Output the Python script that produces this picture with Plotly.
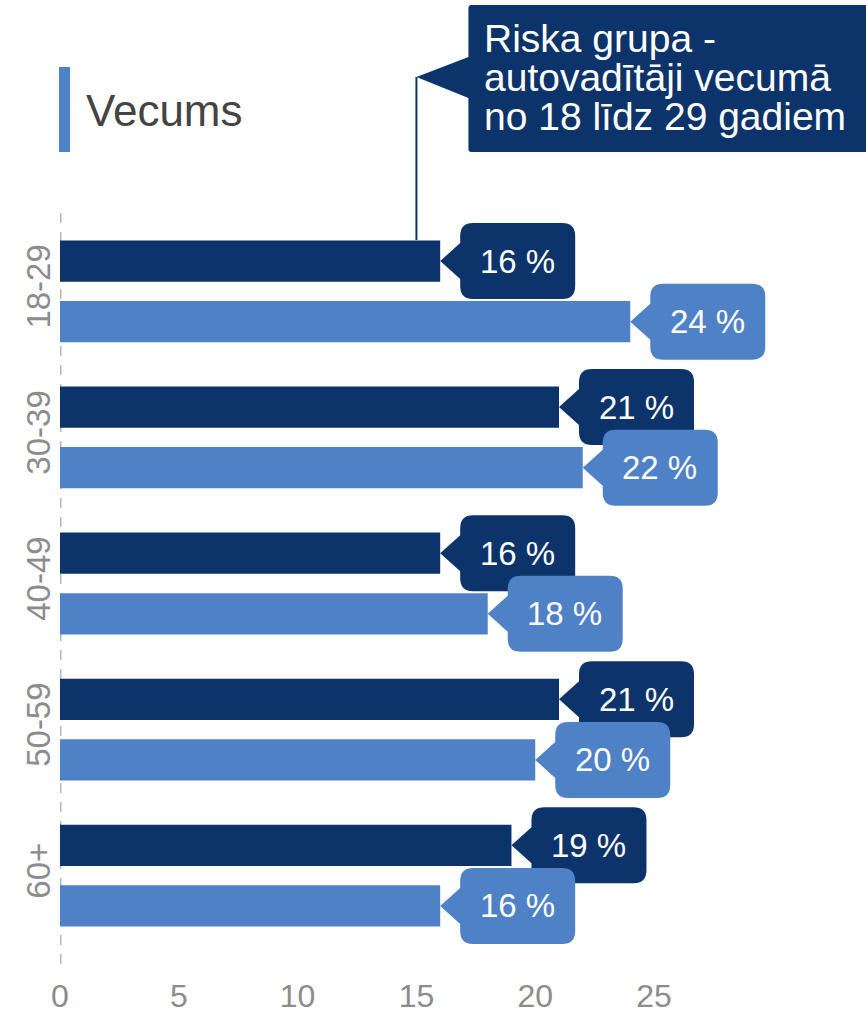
import plotly.graph_objects as go

# data
AGE_GROUPS = ["18-29", "30-39", "40-49", "50-59", "60+"]
SERIES_NAMES = ["Riska grupa", "Visi autovadītāji"]
DARK_VALUES = [16, 21, 16, 21, 19]
LIGHT_VALUES = [24, 22, 18, 20, 16]
X_TICKS = [0, 5, 10, 15, 20, 25]
TITLE = "Vecums"
NOTE_LINES = ["Riska grupa -", "autovadītāji vecumā", "no 18 līdz 29 gadiem"]
NOTE_X = 15

DARK = "#0d336b"
LIGHT = "#4f81c7"
GRAY = "#8c8c8c"
FONT = "Liberation Sans, Arial, sans-serif"

BARGAP = 0.17
BARGROUPGAP = 0.32


def callout_path(w=115, h=76, gap=20, half=18, r=13):
    """Rounded box with a left pointing arrow, tip at (0, 0), pixel units, y up."""
    x0, x1 = gap, gap + w
    t, b = h / 2, -h / 2
    return (
        f"M 0 0 L {x0} {half} L {x0} {t - r} Q {x0} {t} {x0 + r} {t} "
        f"L {x1 - r} {t} Q {x1} {t} {x1} {t - r} L {x1} {b + r} "
        f"Q {x1} {b} {x1 - r} {b} L {x0 + r} {b} Q {x0} {b} {x0} {b + r} "
        f"L {x0} {-half} Z"
    )


fig = go.Figure()
fig.add_trace(go.Bar(y=AGE_GROUPS, x=DARK_VALUES, orientation="h", name=SERIES_NAMES[0],
                     marker=dict(color=DARK, line=dict(width=0)), hoverinfo="skip"))
fig.add_trace(go.Bar(y=AGE_GROUPS, x=LIGHT_VALUES, orientation="h", name=SERIES_NAMES[1],
                     marker=dict(color=LIGHT, line=dict(width=0)), hoverinfo="skip"))

shapes = []
annotations = []

# dashed zero line (runs a little past the bottom of the plot area)
shapes.append(dict(type="line", xref="x", yref="paper", ysizemode="pixel", yanchor=0,
                   x0=0, x1=0, y0=-8, y1=743,
                   line=dict(color="#b8b8b8", width=3, dash="10px,9px"), layer="below"))

# value callouts
slot = (1 - BARGAP) / 4
for i, cat in enumerate(AGE_GROUPS):
    for val, sign, color in [(DARK_VALUES[i], -1, DARK), (LIGHT_VALUES[i], 1, LIGHT)]:
        yc = i + sign * slot
        shapes.append(dict(type="path", xref="x", yref="y", xsizemode="pixel", ysizemode="pixel",
                           xanchor=val, yanchor=yc, path=callout_path(),
                           fillcolor=color, line=dict(width=0)))
        annotations.append(dict(x=val, y=yc, xref="x", yref="y", xshift=77, showarrow=False,
                                text=f"{val} %", font=dict(family=FONT, size=33, color="white")))

# risk group note box with pointer line
shapes.append(dict(type="path", xref="x", yref="paper", xsizemode="pixel", ysizemode="pixel",
                   xanchor=NOTE_X, yanchor=1,
                   path="M 0 134 L 52 154 L 52 203 Q 52 206 55 206 L 460 206 L 460 59 "
                        "L 55 59 Q 52 59 52 62 L 52 113 Z",
                   fillcolor=DARK, line=dict(width=0)))
shapes.append(dict(type="line", xref="x", yref="paper", ysizemode="pixel", yanchor=1,
                   x0=NOTE_X, x1=NOTE_X, y0=134, y1=-29, line=dict(color=DARK, width=2)))
for line, dy in zip(NOTE_LINES, [173, 134, 95]):
    annotations.append(dict(x=NOTE_X, y=1, xref="x", yref="paper", xanchor="left", yanchor="middle",
                            xshift=66, yshift=dy, showarrow=False, text=line,
                            font=dict(family=FONT, size=39, color="white")))

# title with accent bar
shapes.append(dict(type="rect", xref="paper", yref="paper", xsizemode="pixel", ysizemode="pixel",
                   xanchor=0, yanchor=1, x0=-1, x1=10, y0=59, y1=144,
                   fillcolor=LIGHT, line=dict(width=0)))
annotations.append(dict(x=0, y=1, xref="paper", yref="paper", xanchor="left", yanchor="middle",
                        xshift=24, yshift=101, showarrow=False, text=TITLE,
                        font=dict(family=FONT, size=44, color="#444444")))

fig.update_layout(
    width=866, height=1013,
    margin=dict(l=60, r=0, t=211, b=57),
    paper_bgcolor="white", plot_bgcolor="white",
    barmode="group", bargap=BARGAP, bargroupgap=BARGROUPGAP,
    showlegend=False,
    shapes=shapes, annotations=annotations,
    font=dict(family=FONT),
    xaxis=dict(range=[0, 33.92], tickvals=X_TICKS, showgrid=False, zeroline=False, showline=False,
               tickfont=dict(size=32, color=GRAY), ticklabelstandoff=18, fixedrange=True),
    yaxis=dict(type="category", categoryarray=AGE_GROUPS, range=[4.55, -0.55], tickangle=-90,
               showgrid=False, zeroline=False, showline=False,
               tickfont=dict(size=33, color=GRAY), ticklabelstandoff=2, fixedrange=True),
)

# the page's default body margin would push the fixed-size figure off the window
fig.write_html("out.html", config={"displayModeBar": False},
               post_script="document.body.style.margin = '0';")
